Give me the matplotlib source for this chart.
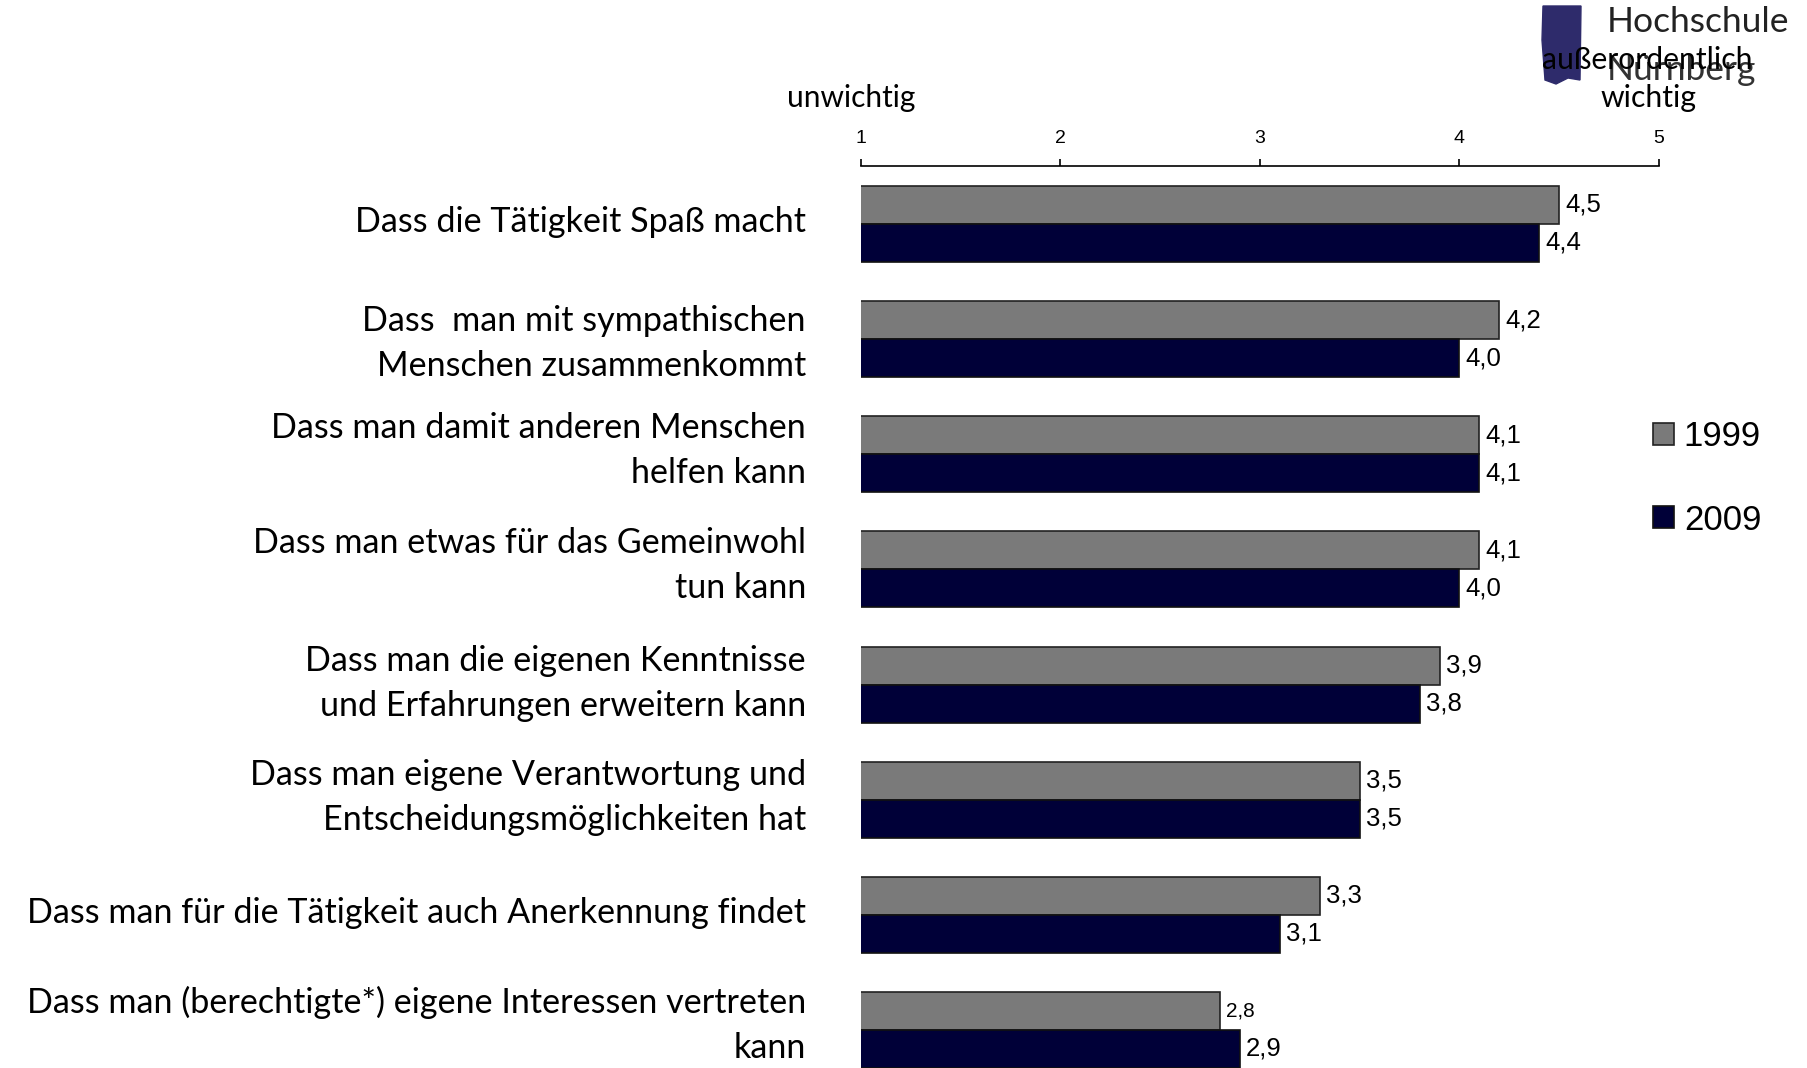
import matplotlib.pyplot as plt
import matplotlib.transforms as mtransforms
import numpy as np
from matplotlib.patches import Polygon

categories = [
    "Dass die Tätigkeit Spaß macht",
    "Dass  man mit sympathischen\nMenschen zusammenkommt",
    "Dass man damit anderen Menschen\nhelfen kann",
    "Dass man etwas für das Gemeinwohl\ntun kann",
    "Dass man die eigenen Kenntnisse\nund Erfahrungen erweitern kann",
    "Dass man eigene Verantwortung und\nEntscheidungsmöglichkeiten hat",
    "Dass man für die Tätigkeit auch Anerkennung findet",
    "Dass man (berechtigte*) eigene Interessen vertreten\nkann",
]
vals_1999 = [4.5, 4.2, 4.1, 4.1, 3.9, 3.5, 3.3, 2.8]
vals_2009 = [4.4, 4.0, 4.1, 4.0, 3.8, 3.5, 3.1, 2.9]
years = ["1999", "2009"]
scale_ticks = [1, 2, 3, 4, 5]

GRAY = "#7a7a7a"
NAVY = "#000038"
LABEL_FONT = ["Lato", "DejaVu Sans"]
NUM_FONT = ["Liberation Sans", "DejaVu Sans"]

# small upward nudges of the category texts (as placed on the slide)
label_nudge = [0.02, -0.04, 0.03, 0.035, 0.01, 0.015, 0.02, 0.045]

fig = plt.figure(figsize=(18.08, 10.68), dpi=100)
W, H = 1808, 1068
ax = fig.add_axes([861 / W, 0, (1659 - 861) / W, (H - 166) / H])

y = np.arange(len(categories))
bh = 0.33
ax.barh(y - bh / 2, vals_1999, bh, left=0, color=GRAY, edgecolor="#222222",
        linewidth=1.2, label=years[0])
ax.barh(y + bh / 2, vals_2009, bh, left=0, color=NAVY, edgecolor="#111111",
        linewidth=1.2, label=years[1])

for i, (a, b) in enumerate(zip(vals_1999, vals_2009)):
    fs_a = 15 if i == len(categories) - 1 else 18.5
    ax.text(a + 0.03, i - bh / 2, f"{a:.1f}".replace(".", ","), va="center",
            ha="left", fontsize=fs_a, family=NUM_FONT)
    ax.text(b + 0.03, i + bh / 2, f"{b:.1f}".replace(".", ","), va="center",
            ha="left", fontsize=18.5, family=NUM_FONT)

ax.set_xlim(1, 5)
ax.set_ylim(7.33, -0.503)
ax.xaxis.tick_top()
ax.set_xticks(scale_ticks)
ax.set_xticklabels([str(t) for t in scale_ticks], fontsize=14, family=NUM_FONT)
ax.tick_params(axis="x", direction="out", length=5, width=1.2, pad=9)
ax.set_yticks([])
for s in ("left", "right", "bottom"):
    ax.spines[s].set_visible(False)
ax.spines["top"].set_linewidth(1.2)

# category labels, right aligned left of the bars
trans = mtransforms.blended_transform_factory(fig.transFigure, ax.transData)
for i, cat in enumerate(categories):
    ax.text(806 / W, i - label_nudge[i], cat, transform=trans, ha="right",
            va="center", fontsize=24.6, family=LABEL_FONT, linespacing=1.5)

# scale end labels
fig.text(851 / W, 1 - 98 / H, "unwichtig", ha="center", va="center",
         fontsize=21.5, family=LABEL_FONT)

# logo
logo = Polygon([[1543 / W, 1 - 6 / H], [1581 / W, 1 - 6 / H], [1580 / W, 1 - 80 / H],
                [1568 / W, 1 - 78 / H], [1556 / W, 1 - 84 / H], [1545 / W, 1 - 80 / H],
                [1542 / W, 1 - 40 / H]],
               closed=True, transform=fig.transFigure, color="#2e2b6b", zorder=0)
fig.patches.append(logo)
fig.text(1607 / W, 1 - 22 / H, "Hochschule", ha="left", va="center",
         fontsize=25.5, family=LABEL_FONT, color="#222222")
fig.text(1607 / W, 1 - 70 / H, "Nürnberg", ha="left", va="center",
         fontsize=25.5, family=LABEL_FONT, color="#333333")
fig.text(1647 / W, 1 - 60 / H, "außerordentlich", ha="center", va="center",
         fontsize=21.7, family=LABEL_FONT)
fig.text(1649 / W, 1 - 98 / H, "wichtig", ha="center", va="center",
         fontsize=21.7, family=LABEL_FONT)

leg = fig.legend(loc="upper left", bbox_to_anchor=(1622 / W, 1 - 389 / H),
                 frameon=False, prop={"family": NUM_FONT, "size": 25},
                 handlelength=0.6, handleheight=0.6, labelspacing=1.45,
                 handletextpad=0.28)

fig.savefig("out.png", dpi=100)
